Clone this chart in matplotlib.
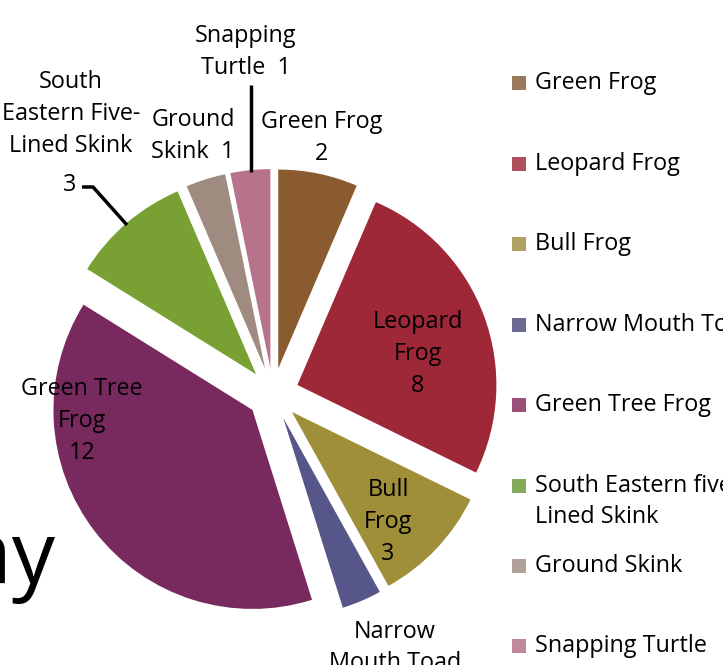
import matplotlib
matplotlib.use("Agg")
import matplotlib.pyplot as plt
from matplotlib.patches import Rectangle

# ---- data ----
categories = ["Green Frog", "Leopard Frog", "Bull Frog", "Narrow Mouth Toad",
              "Green Tree Frog", "South Eastern five-\nLined Skink", "Ground Skink",
              "Snapping Turtle"]
values = [2, 8, 3, 1, 12, 3, 1, 1]
slice_labels = ["Green Frog", "Leopard\nFrog", "Bull\nFrog", "Narrow\nMouth Toad",
                "Green Tree\nFrog", "South\nEastern Five-\nLined Skink", "Ground\nSkink",
                "Snapping\nTurtle"]
colors = ["#8a5a30", "#9e2838", "#9e8f38", "#56568a", "#782a5e", "#78a032",
          "#9f8b80", "#b8738c"]
legend_colors = ["#9a7a5a", "#b0505c", "#b0a264", "#6a6a92", "#985078", "#84aa5a",
                 "#b0a098", "#c08a9a"]

W, H = 723, 665
plt.rcParams['font.family'] = ['Open Sans', 'DejaVu Sans']
fig = plt.figure(figsize=(W / 100, H / 100), dpi=100)
ax = fig.add_axes([0, 0, 1, 1])

def Y(y):
    return H - y

radius = 199
wedges, _ = ax.pie(values, colors=colors, startangle=90, counterclock=False,
                   explode=[26] * len(values), center=(273, Y(394)),
                   radius=radius, wedgeprops=dict(linewidth=0))
ax.set_xlim(0, W)
ax.set_ylim(0, H)
ax.set_aspect('equal')
ax.axis('off')

fs = 16.8
ls = 1.45
kw = dict(ha='center', va='center', fontsize=fs, linespacing=ls)
# slice labels
ax.text(322, Y(138), f"{slice_labels[0]}\n{values[0]}", **kw)
ax.text(418, Y(354), f"{slice_labels[1]}\n{values[1]}", **kw)
ax.text(388, Y(522), f"{slice_labels[2]}\n{values[2]}", **kw)
ax.text(395, Y(632), slice_labels[3] .split("\n")[0], **kw)
ax.text(395, Y(663), slice_labels[3].split("\n")[1], **kw)
ax.text(82, Y(421), f"{slice_labels[4]}\n{values[4]}", **kw)
ax.text(71, Y(114), slice_labels[5], **kw)
ax.text(70, Y(185), str(values[5]), **kw)
ax.text(193, Y(136), f"{slice_labels[6]}  {values[6]}", **kw)
ax.text(246, Y(52), f"{slice_labels[7]}  {values[7]}", **kw)

# leader lines
ax.plot([251, 251], [Y(85), Y(172)], color='black', lw=2.5, solid_capstyle='butt')
ax.plot([82, 93, 127], [Y(187), Y(187), Y(225)], color='black', lw=2.5, solid_capstyle='butt')

# large partial title text
ax.text(55, Y(583), "ay", ha='right', va='baseline', fontsize=62)

# legend
leg_y = [83, 164, 244, 325, 405, 486, 566, 646]
for name, c, y in zip(categories, legend_colors, leg_y):
    ax.add_patch(Rectangle((512, Y(y) - 7), 14, 14, facecolor=c, edgecolor='none'))
    lines = name.split("\n")
    for i, line in enumerate(lines):
        ax.text(535, Y(y + 31 * i), line, ha='left', va='center', fontsize=fs)

fig.savefig("out.png", dpi=100)
